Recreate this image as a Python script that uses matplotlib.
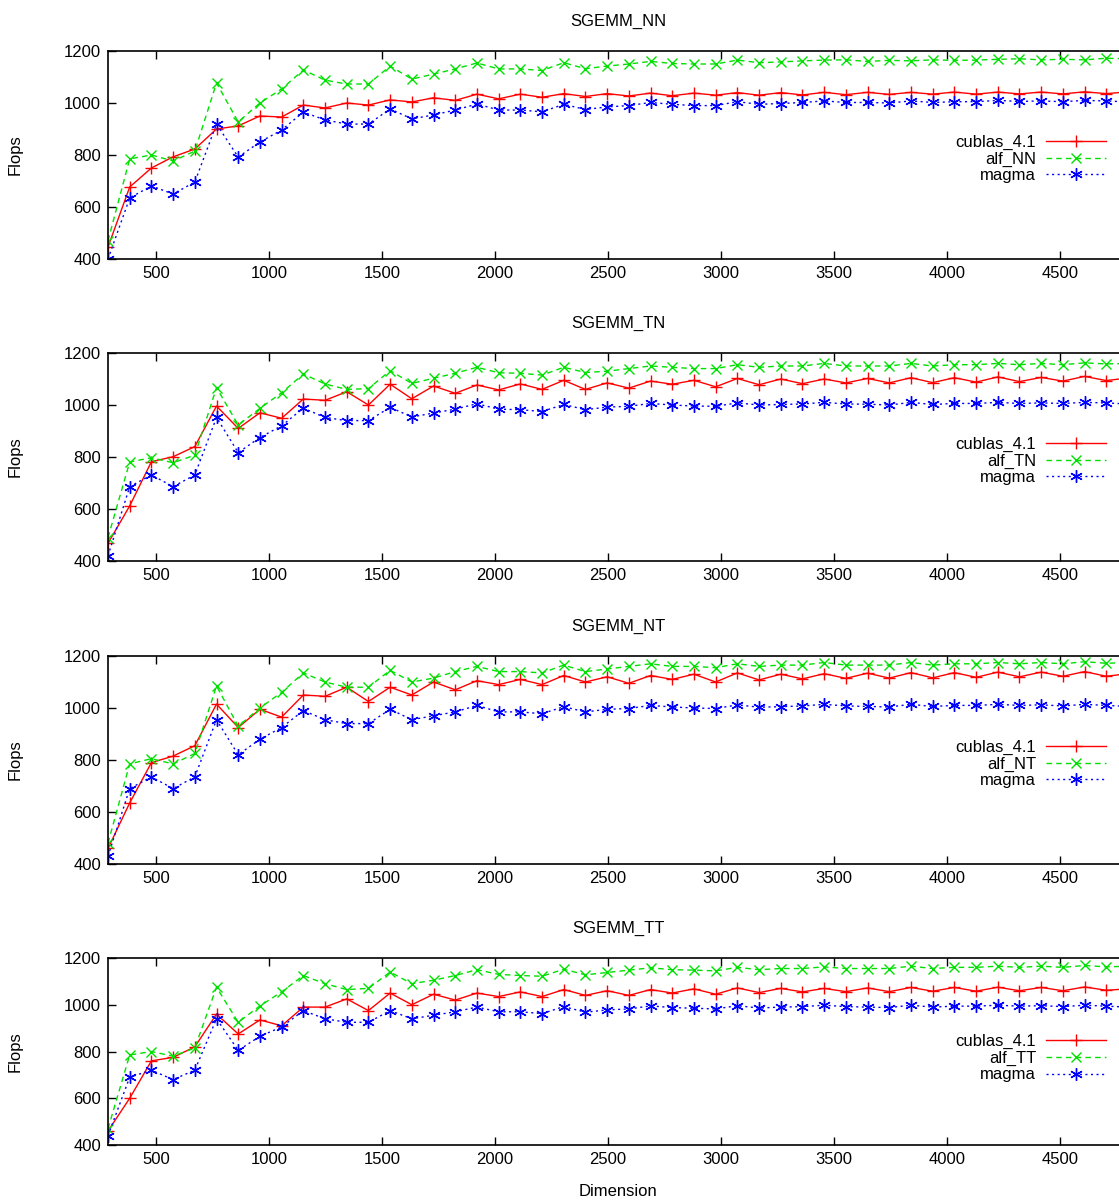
import matplotlib
matplotlib.use("Agg")
import matplotlib.pyplot as plt
import numpy as np

plt.rcParams['font.family'] = ['Liberation Sans', 'DejaVu Sans']

dims = list(range(288, 4801, 96))

titles = ["SGEMM_NN", "SGEMM_TN", "SGEMM_NT", "SGEMM_TT"]
alf_names = ["alf_NN", "alf_TN", "alf_NT", "alf_TT"]

cublas_NN = [446, 677, 750, 793, 823, 900, 912, 950, 946, 992, 981, 1000, 992, 1012, 1004, 1020, 1010, 1034, 1016, 1034,
             1022, 1036, 1025, 1036, 1027, 1038, 1028, 1038, 1030, 1040, 1030, 1040, 1031, 1041, 1032, 1041, 1033, 1041,
             1034, 1042, 1034, 1042, 1035, 1042, 1035, 1043, 1036, 1043]
alf_NN = [470, 785, 800, 777, 815, 1077, 927, 1000, 1054, 1127, 1088, 1073, 1073, 1142, 1092, 1111, 1131, 1154, 1131, 1131,
          1125, 1155, 1132, 1142, 1150, 1160, 1152, 1150, 1150, 1165, 1155, 1158, 1162, 1165, 1166, 1160, 1164, 1162,
          1166, 1164, 1165, 1168, 1170, 1166, 1168, 1166, 1172, 1170]
magma_NN = [400, 635, 681, 650, 696, 919, 792, 850, 896, 965, 935, 919, 919, 977, 939, 954, 973, 996, 973, 973,
            966, 995, 975, 985, 990, 1002, 995, 990, 990, 1005, 995, 998, 1002, 1008, 1002, 1002, 1000, 1008,
            1002, 1005, 1005, 1010, 1006, 1008, 1005, 1010, 1008, 1004]

cublas_TN = [468, 612, 782, 801, 840, 996, 910, 970, 949, 1023, 1018, 1051, 1000, 1080, 1024, 1073, 1045, 1077, 1058, 1081,
             1060, 1095, 1060, 1085, 1065, 1092, 1080, 1095, 1070, 1102, 1078, 1100, 1082, 1100, 1085, 1102, 1085, 1105,
             1086, 1105, 1088, 1108, 1090, 1106, 1092, 1110, 1094, 1104]
alf_TN = [490, 781, 797, 778, 807, 1067, 923, 987, 1047, 1119, 1081, 1060, 1063, 1132, 1083, 1103, 1122, 1145, 1124, 1122,
          1115, 1145, 1125, 1130, 1140, 1150, 1145, 1140, 1140, 1155, 1145, 1150, 1150, 1160, 1150, 1150, 1150, 1160,
          1150, 1155, 1155, 1160, 1155, 1160, 1155, 1162, 1158, 1160]
magma_TN = [420, 686, 731, 686, 731, 952, 817, 875, 920, 988, 952, 940, 940, 991, 954, 969, 984, 1005, 984, 982,
            975, 1002, 982, 992, 995, 1006, 1000, 996, 995, 1008, 1000, 1002, 1004, 1010, 1004, 1003, 1000, 1010,
            1002, 1006, 1006, 1010, 1006, 1008, 1006, 1010, 1008, 1004]

cublas_NT = [460, 635, 790, 815, 855, 1015, 925, 995, 965, 1050, 1045, 1080, 1025, 1080, 1050, 1100, 1070, 1105, 1090, 1110,
             1090, 1125, 1100, 1120, 1095, 1125, 1110, 1130, 1100, 1135, 1108, 1130, 1112, 1132, 1114, 1134, 1115, 1136,
             1116, 1136, 1118, 1138, 1120, 1138, 1122, 1140, 1122, 1132]
alf_NT = [480, 785, 805, 785, 825, 1085, 930, 1000, 1060, 1135, 1100, 1080, 1080, 1145, 1100, 1115, 1140, 1160, 1140, 1140,
          1135, 1165, 1140, 1150, 1160, 1170, 1160, 1160, 1155, 1170, 1160, 1165, 1165, 1175, 1165, 1165, 1165, 1175,
          1165, 1170, 1170, 1175, 1170, 1175, 1170, 1178, 1172, 1175]
magma_NT = [430, 690, 735, 690, 735, 955, 820, 880, 925, 990, 955, 940, 940, 995, 955, 970, 985, 1010, 985, 985,
            978, 1005, 985, 995, 998, 1010, 1004, 1000, 998, 1012, 1003, 1005, 1008, 1014, 1008, 1006, 1004, 1014,
            1006, 1010, 1010, 1014, 1010, 1012, 1008, 1014, 1010, 1006]

cublas_TT = [460, 600, 760, 775, 820, 960, 875, 935, 910, 990, 990, 1025, 975, 1050, 1000, 1045, 1020, 1050, 1035, 1055,
             1035, 1065, 1040, 1060, 1040, 1065, 1050, 1068, 1045, 1072, 1052, 1070, 1055, 1070, 1056, 1072, 1056, 1074,
             1058, 1074, 1058, 1075, 1060, 1074, 1060, 1076, 1062, 1068]
alf_TT = [470, 785, 800, 780, 815, 1075, 925, 995, 1055, 1125, 1090, 1065, 1070, 1140, 1090, 1105, 1125, 1150, 1130, 1125,
          1122, 1152, 1128, 1138, 1148, 1158, 1150, 1148, 1145, 1160, 1150, 1155, 1155, 1162, 1155, 1155, 1155, 1165,
          1155, 1160, 1160, 1165, 1160, 1165, 1160, 1168, 1162, 1165]
magma_TT = [440, 690, 720, 680, 720, 940, 805, 865, 905, 975, 940, 925, 925, 975, 940, 955, 970, 990, 970, 970,
            962, 992, 968, 978, 982, 995, 988, 985, 982, 996, 986, 990, 992, 998, 992, 990, 988, 998,
            990, 994, 994, 998, 994, 996, 992, 998, 994, 990]

cublas = [cublas_NN, cublas_TN, cublas_NT, cublas_TT]
alf = [alf_NN, alf_TN, alf_NT, alf_TT]
magma = [magma_NN, magma_TN, magma_NT, magma_TT]

W, H = 1119, 1201
fig = plt.figure(figsize=(W/100, H/100), dpi=100)
panels = [(51, 259), (353, 561), (656, 864), (958, 1145)]
left, right = 108, 1128
asterisk = (6, 2, 0)
for i, (top, bot) in enumerate(panels):
    ax = fig.add_axes([left/W, 1 - bot/H, (right-left)/W, (bot-top)/H])
    ax.plot(dims, cublas[i], color='#ff0000', lw=1, ls='-', marker='+', ms=9, mew=1, label='cublas_4.1')
    ax.plot(dims, alf[i], color='#00e000', lw=1, ls=(0, (4, 3)), marker='x', ms=7, mew=1, label=alf_names[i])
    ax.plot(dims, magma[i], color='#0000ff', lw=1, ls=(0, (1.5, 2.5)), marker=asterisk, ms=9, mew=1, label='magma')
    ax.set_xlim(288, 4800)
    ax.set_ylim(400, 1200)
    ax.set_xticks(range(500, 4501, 500))
    ax.set_yticks(range(400, 1201, 200))
    ax.tick_params(direction='in', top=True, right=True, labelsize=12, length=6, width=1, pad=5)
    for s in ax.spines.values():
        s.set_linewidth(1.2)
    ax.set_title(titles[i], fontsize=12, pad=18)
    ax.set_ylabel('Flops', fontsize=12)
    ax.yaxis.set_label_coords(-85/(right-left), 0.5)
    leg = ax.legend(loc='upper right', bbox_to_anchor=(0.985, 0.63), frameon=False, fontsize=12,
                    markerfirst=False, handlelength=3.6, labelspacing=0.1, handletextpad=0.6, borderaxespad=0)
    for t in leg.get_texts():
        t.set_ha('right')
    if i == 3:
        ax.set_xlabel('Dimension', fontsize=12, labelpad=12)

fig.savefig('out.png', dpi=100)
